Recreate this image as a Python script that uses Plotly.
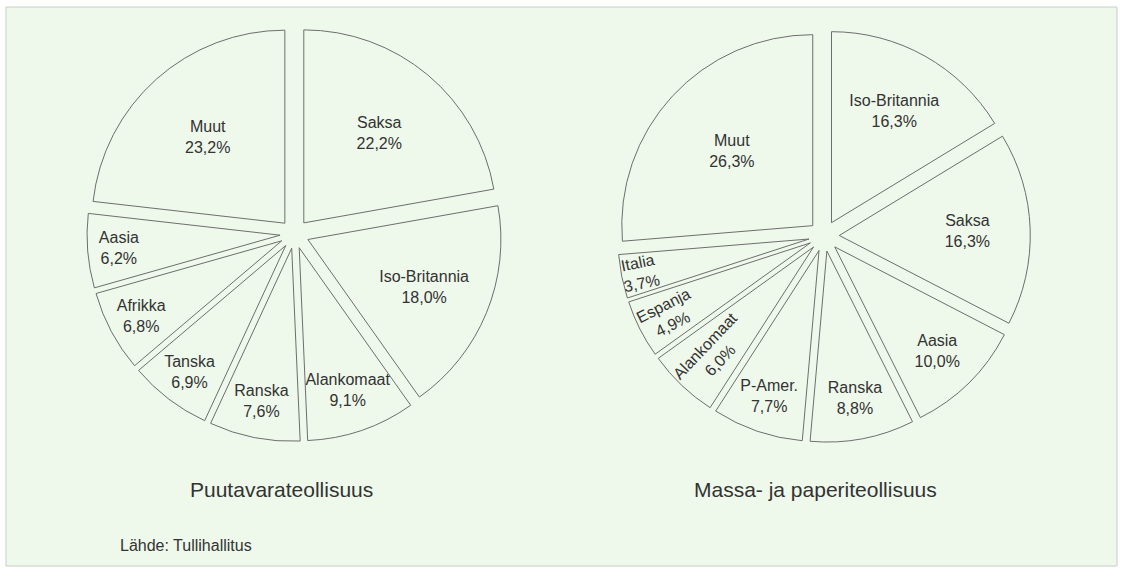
import plotly.graph_objects as go

# Left pie: Puutavarateollisuus
left_labels = ["Saksa", "Iso-Britannia", "Alankomaat", "Ranska", "Tanska", "Afrikka", "Aasia", "Muut"]
left_values = [22.2, 18.0, 9.1, 7.6, 6.9, 6.8, 6.2, 23.2]

# Right pie: Massa- ja paperiteollisuus
right_labels = ["Iso-Britannia", "Saksa", "Aasia", "Ranska", "P-Amer.", "Alankomaat", "Espanja", "Italia", "Muut"]
right_values = [16.3, 16.3, 10.0, 8.8, 7.7, 6.0, 4.9, 3.7, 26.3]
# slices of the right pie whose labels run along the radius
right_radial = ["Alankomaat", "Espanja", "Italia"]

left_title = "Puutavarateollisuus"
right_title = "Massa- ja paperiteollisuus"
source_text = "Lähde: Tullihallitus"

W, H = 1123, 570
BG = "#eef8eb"
LINE = "#6e6e6e"
TXT = "#333333"
FONT = "Liberation Sans, Arial, sans-serif"
TPL = "%{label}<br>%{value:.1f}%"


def dom(cx, cy, half):
    return dict(x=[(cx - half) / W, (cx + half) / W],
                y=[(H - cy - half) / H, (H - cy + half) / H])


left_dom = dom(294.5, 234, 207.5)
right_pull = 0.08
right_dom = dom(824, 236, 191 * (1 + right_pull))

fig = go.Figure()

fig.add_trace(go.Pie(
    labels=left_labels, values=left_values,
    sort=False, direction="clockwise", rotation=0,
    pull=[0.075] * len(left_values),
    domain=left_dom,
    marker=dict(colors=[BG] * len(left_values), line=dict(color=LINE, width=1)),
    texttemplate=TPL,
    textposition="inside", insidetextorientation="horizontal",
    textfont=dict(family=FONT, size=16, color=TXT),
    showlegend=False, hoverinfo="label+value",
))

# right pie: slices + horizontal labels
fig.add_trace(go.Pie(
    labels=right_labels, values=right_values,
    sort=False, direction="clockwise", rotation=0,
    pull=[right_pull] * len(right_values),
    domain=right_dom,
    marker=dict(colors=[BG] * len(right_values), line=dict(color=LINE, width=1)),
    texttemplate=["" if l in right_radial else TPL for l in right_labels],
    textposition="inside", insidetextorientation="horizontal",
    textfont=dict(family=FONT, size=16, color=TXT),
    showlegend=False, hoverinfo="label+value",
))

# right pie: transparent overlay carrying the radial labels
fig.add_trace(go.Pie(
    labels=right_labels, values=right_values,
    sort=False, direction="clockwise", rotation=0,
    pull=[right_pull] * len(right_values),
    domain=right_dom,
    marker=dict(colors=["rgba(0,0,0,0)"] * len(right_values),
                line=dict(color="rgba(0,0,0,0)", width=0)),
    texttemplate=[TPL if l in right_radial else "" for l in right_labels],
    textposition="inside", insidetextorientation="radial",
    textfont=dict(family=FONT, size=16, color=TXT),
    showlegend=False, hoverinfo="skip",
))

fig.update_layout(
    width=W, height=H,
    margin=dict(l=0, r=0, t=0, b=0),
    paper_bgcolor="white",
    plot_bgcolor="white",
    separators=", ",
    uniformtext=dict(minsize=16, mode="show"),
    shapes=[dict(type="rect", xref="paper", yref="paper",
                 x0=6 / W, x1=1117 / W, y0=1 - 566 / H, y1=1 - 7 / H,
                 fillcolor=BG, line=dict(color="#c9cdc8", width=1), layer="below")],
    annotations=[
        dict(text=left_title, x=281.5 / W, y=1 - 489 / H, xref="paper", yref="paper",
             xanchor="center", yanchor="middle",
             showarrow=False, font=dict(family=FONT, size=21, color=TXT)),
        dict(text=right_title, x=815 / W, y=1 - 489 / H, xref="paper", yref="paper",
             xanchor="center", yanchor="middle",
             showarrow=False, font=dict(family=FONT, size=21, color=TXT)),
        dict(text=source_text, x=118 / W, y=1 - 545 / H, xref="paper", yref="paper",
             xanchor="left", yanchor="middle",
             showarrow=False, font=dict(family=FONT, size=16, color=TXT)),
    ],
)

fig.write_html("out.html", config={"displayModeBar": False},
               post_script="document.body.style.margin='0';")
